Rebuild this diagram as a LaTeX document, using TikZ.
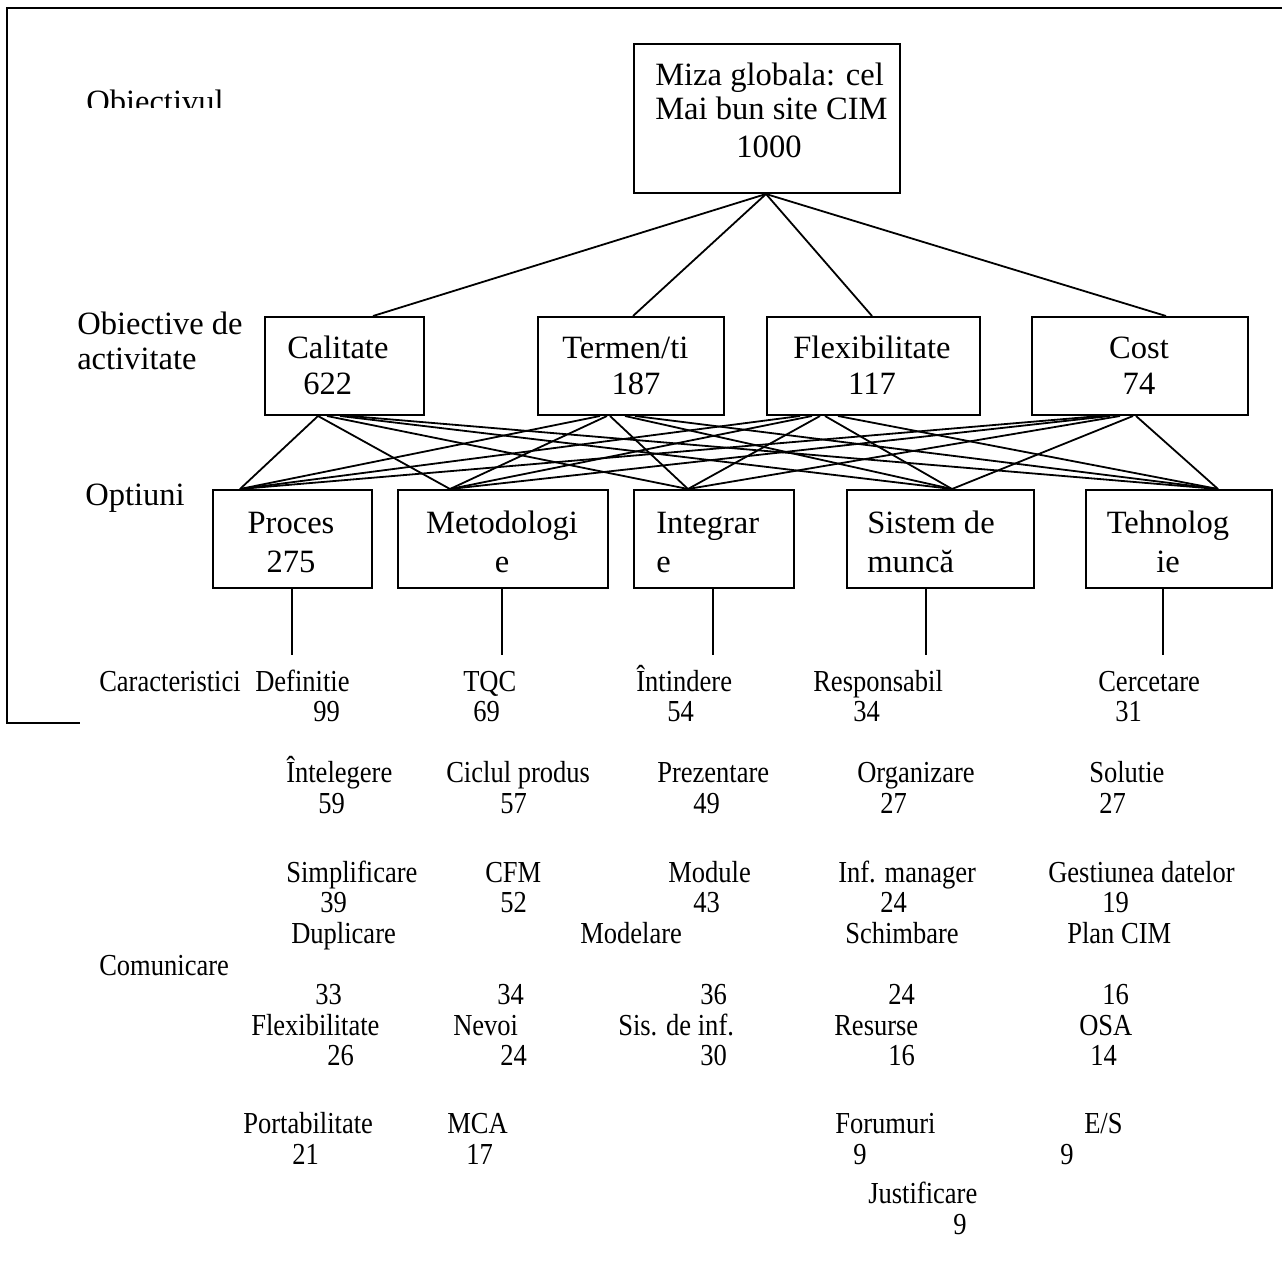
\documentclass[tikz,border=0pt]{standalone}
\usepackage{fontspec}
\usepackage{graphicx}
\setmainfont{Liberation Serif}
\usetikzlibrary{calc}
\newcommand\tallt[1]{\scalebox{1}[1.15]{#1}}
\begin{document}
\begin{tikzpicture}[x=0.75pt,y=-0.75pt,
  box/.style={draw,line width=1.5pt,inner sep=0pt,anchor=north west},
  big/.style={font=\fontsize{24.4}{27.8}\selectfont,inner sep=0pt},
  sm/.style={font=\fontsize{19.9}{22}\selectfont,inner sep=0pt,anchor=base west},
  link/.style={line width=1.35pt},
  frame/.style={line width=1.5pt}]
\useasboundingbox (0,0) rectangle (1282,1261);

% outer frame
\coordinate (frTR) at (1282,8);
\coordinate (frTL) at (7,8);
\coordinate (frBL) at (7,723);
\coordinate (frBR) at (80,723);
\draw[frame] (frTR) -- (frTL) -- (frBL) -- (frBR);

% boxes
\newcommand\bx[5]{\node[box,minimum width=#4*0.75pt,minimum height=#5*0.75pt] (#1) at (#2,#3) {};}
\bx{miza}{633}{43}{266}{149}
\bx{cal}{264}{316}{159}{98}
\bx{ter}{537}{316}{186}{98}
\bx{flx}{766}{316}{213}{98}
\bx{cst}{1031}{316}{216}{98}
\bx{pro}{212}{489}{159}{98}
\bx{met}{397}{489}{210}{98}
\bx{int}{633}{489}{160}{98}
\bx{sis}{846}{489}{187}{98}
\bx{teh}{1085}{489}{186}{98}

% box texts
\node[big,anchor=base west] (mz1) at (655,85) {Miza globala: cel};
\node[big,anchor=base west] (mz2) at (655,119) {Mai bun site CIM};
\node[big,anchor=base] (mz3) at (769,157) {1000};
\node[big,anchor=base west] (calT) at (287,358) {Calitate};
\node[big,anchor=base west] (calN) at (303,394) {622};
\node[big,anchor=base west] (terT) at (562,358) {Termen/ti};
\node[big,anchor=base] (terN) at (636,394) {187};
\node[big,anchor=base] (flxT) at (872,358) {Flexibilitate};
\node[big,anchor=base] (flxN) at (872,394) {117};
\node[big,anchor=base] (cstT) at (1139,358) {Cost};
\node[big,anchor=base] (cstN) at (1139,394) {74};
\node[big,anchor=base] (proT) at (291,533) {Proces};
\node[big,anchor=base] (proN) at (291,572) {275};
\node[big,anchor=base] (metT) at (502,533) {Metodologi};
\node[big,anchor=base] (metN) at (502,572) {e};
\node[big,anchor=base west] (intT) at (656,533) {Integrar};
\node[big,anchor=base west] (intN) at (656,572) {e};
\node[big,anchor=base west] (sisT) at (867,533) {Sistem de};
\node[big,anchor=base west] (sisN) at (867,572) {muncă};
\node[big,anchor=base] (tehT) at (1168,533) {Tehnolog};
\node[big,anchor=base] (tehN) at (1168,572) {ie};

% level labels
\begin{scope}
\clip (70,80) rectangle (240,107);
\node[big,anchor=base west] (lblObj) at (86,112) {Obiectivul};
\end{scope}
\node[big,anchor=base west] (lblAct1) at (77,334) {Obiective de};
\node[big,anchor=base west] (lblAct2) at (77,369) {activitate};
\node[big,anchor=base west] (lblOpt) at (85,505) {Optiuni};

% top connectors
\draw[link] ($(miza.south west)+(133,0)$) -- ($(cal.north west)+(109,0)$);
\draw[link] ($(miza.south west)+(133,0)$) -- ($(ter.north west)+(96,0)$);
\draw[link] ($(miza.south west)+(133,0)$) -- ($(flx.north west)+(106,0)$);
\draw[link] ($(miza.south west)+(133,0)$) -- ($(cst.north west)+(135,0)$);

% objective -> option connectors
\draw[link] ($(cal.south west)+(54,0)$) -- ($(pro.north west)+(28,0)$);
\draw[link] ($(cal.south west)+(54,0)$) -- ($(met.north west)+(53,0)$);
\draw[link] ($(cal.south west)+(63,0)$) -- ($(int.north west)+(55,0)$);
\draw[link] ($(cal.south west)+(76,0)$) -- ($(sis.north west)+(106,0)$);
\draw[link] ($(cal.south west)+(86,0)$) -- ($(teh.north west)+(133,0)$);

\draw[link] ($(ter.south west)+(63,0)$) -- ($(pro.north west)+(28,0)$);
\draw[link] ($(ter.south west)+(70,0)$) -- ($(met.north west)+(53,0)$);
\draw[link] ($(ter.south west)+(73,0)$) -- ($(int.north west)+(55,0)$);
\draw[link] ($(ter.south west)+(88,0)$) -- ($(sis.north west)+(106,0)$);
\draw[link] ($(ter.south west)+(98,0)$) -- ($(teh.north west)+(133,0)$);

\draw[link] ($(flx.south west)+(34,0)$) -- ($(pro.north west)+(28,0)$);
\draw[link] ($(flx.south west)+(46,0)$) -- ($(met.north west)+(53,0)$);
\draw[link] ($(flx.south west)+(54,0)$) -- ($(int.north west)+(55,0)$);
\draw[link] ($(flx.south west)+(59,0)$) -- ($(sis.north west)+(106,0)$);
\draw[link] ($(flx.south west)+(72,0)$) -- ($(teh.north west)+(133,0)$);

\draw[link] ($(cst.south west)+(69,0)$) -- ($(pro.north west)+(28,0)$);
\draw[link] ($(cst.south west)+(79,0)$) -- ($(met.north west)+(53,0)$);
\draw[link] ($(cst.south west)+(89,0)$) -- ($(int.north west)+(55,0)$);
\draw[link] ($(cst.south west)+(102,0)$) -- ($(sis.north west)+(106,0)$);
\draw[link] ($(cst.south west)+(105,0)$) -- ($(teh.north west)+(133,0)$);

% stems below options
\coordinate (proE) at (292,655);
\coordinate (metE) at (502,655);
\coordinate (intE) at (713,655);
\coordinate (sisE) at (926,655);
\coordinate (tehE) at (1163,655);
\draw[link] (pro.south -| proE) -- (proE);
\draw[link] (met.south -| metE) -- (metE);
\draw[link] (int.south -| intE) -- (intE);
\draw[link] (sis.south -| sisE) -- (sisE);
\draw[link] (teh.south -| tehE) -- (tehE);

% characteristics
\newcommand\ch[4]{\node[sm] (#1) at (#2,#3) {\tallt{#4}};}
\ch{car}{99}{691}{Caracteristici}
\ch{com}{99}{975}{Comunicare}

\ch{a1}{255}{691}{Definitie}
\ch{a2}{463}{691}{TQC}
\ch{a3}{636}{691}{Întindere}
\ch{a4}{813}{691}{Responsabil}
\ch{a5}{1098}{691}{Cercetare}
\ch{an1}{313}{721}{99}
\ch{an2}{473}{721}{69}
\ch{an3}{667}{721}{54}
\ch{an4}{853}{721}{34}
\ch{an5}{1115}{721}{31}

\ch{b1}{286}{782}{Întelegere}
\ch{b2}{446}{782}{Ciclul produs}
\ch{b3}{657}{782}{Prezentare}
\ch{b4}{857}{782}{Organizare}
\ch{b5}{1089}{782}{Solutie}
\ch{bn1}{318}{813}{59}
\ch{bn2}{500}{813}{57}
\ch{bn3}{693}{813}{49}
\ch{bn4}{880}{813}{27}
\ch{bn5}{1099}{813}{27}

\ch{c1}{286}{882}{Simplificare}
\ch{c2}{485}{882}{CFM}
\ch{c3}{668}{882}{Module}
\ch{c4}{838}{882}{Inf. manager}
\ch{c5}{1048}{882}{Gestiunea datelor}
\ch{cn1}{320}{912}{39}
\ch{cn2}{500}{912}{52}
\ch{cn3}{693}{912}{43}
\ch{cn4}{880}{912}{24}
\ch{cn5}{1102}{912}{19}

\ch{d1}{291}{943}{Duplicare}
\ch{d3}{580}{943}{Modelare}
\ch{d4}{845}{943}{Schimbare}
\ch{d5}{1067}{943}{Plan CIM}
\ch{dn1}{315}{1004}{33}
\ch{dn2}{497}{1004}{34}
\ch{dn3}{700}{1004}{36}
\ch{dn4}{888}{1004}{24}
\ch{dn5}{1102}{1004}{16}

\ch{e1}{251}{1035}{Flexibilitate}
\ch{e2}{453}{1035}{Nevoi}
\ch{e3}{618}{1035}{Sis. de inf.}
\ch{e4}{834}{1035}{Resurse}
\ch{e5}{1079}{1035}{OSA}
\ch{en1}{327}{1065}{26}
\ch{en2}{500}{1065}{24}
\ch{en3}{700}{1065}{30}
\ch{en4}{888}{1065}{16}
\ch{en5}{1090}{1065}{14}

\ch{f1}{243}{1133}{Portabilitate}
\ch{f2}{447}{1133}{MCA}
\ch{f4}{835}{1133}{Forumuri}
\ch{f5}{1084}{1133}{E/S}
\ch{fn1}{292}{1164}{21}
\ch{fn2}{466}{1164}{17}
\ch{fn4}{853}{1164}{9}
\ch{fn5}{1060}{1164}{9}

\ch{g4}{868}{1203}{Justificare}
\ch{gn4}{953}{1234}{9}
\end{tikzpicture}
\end{document}
